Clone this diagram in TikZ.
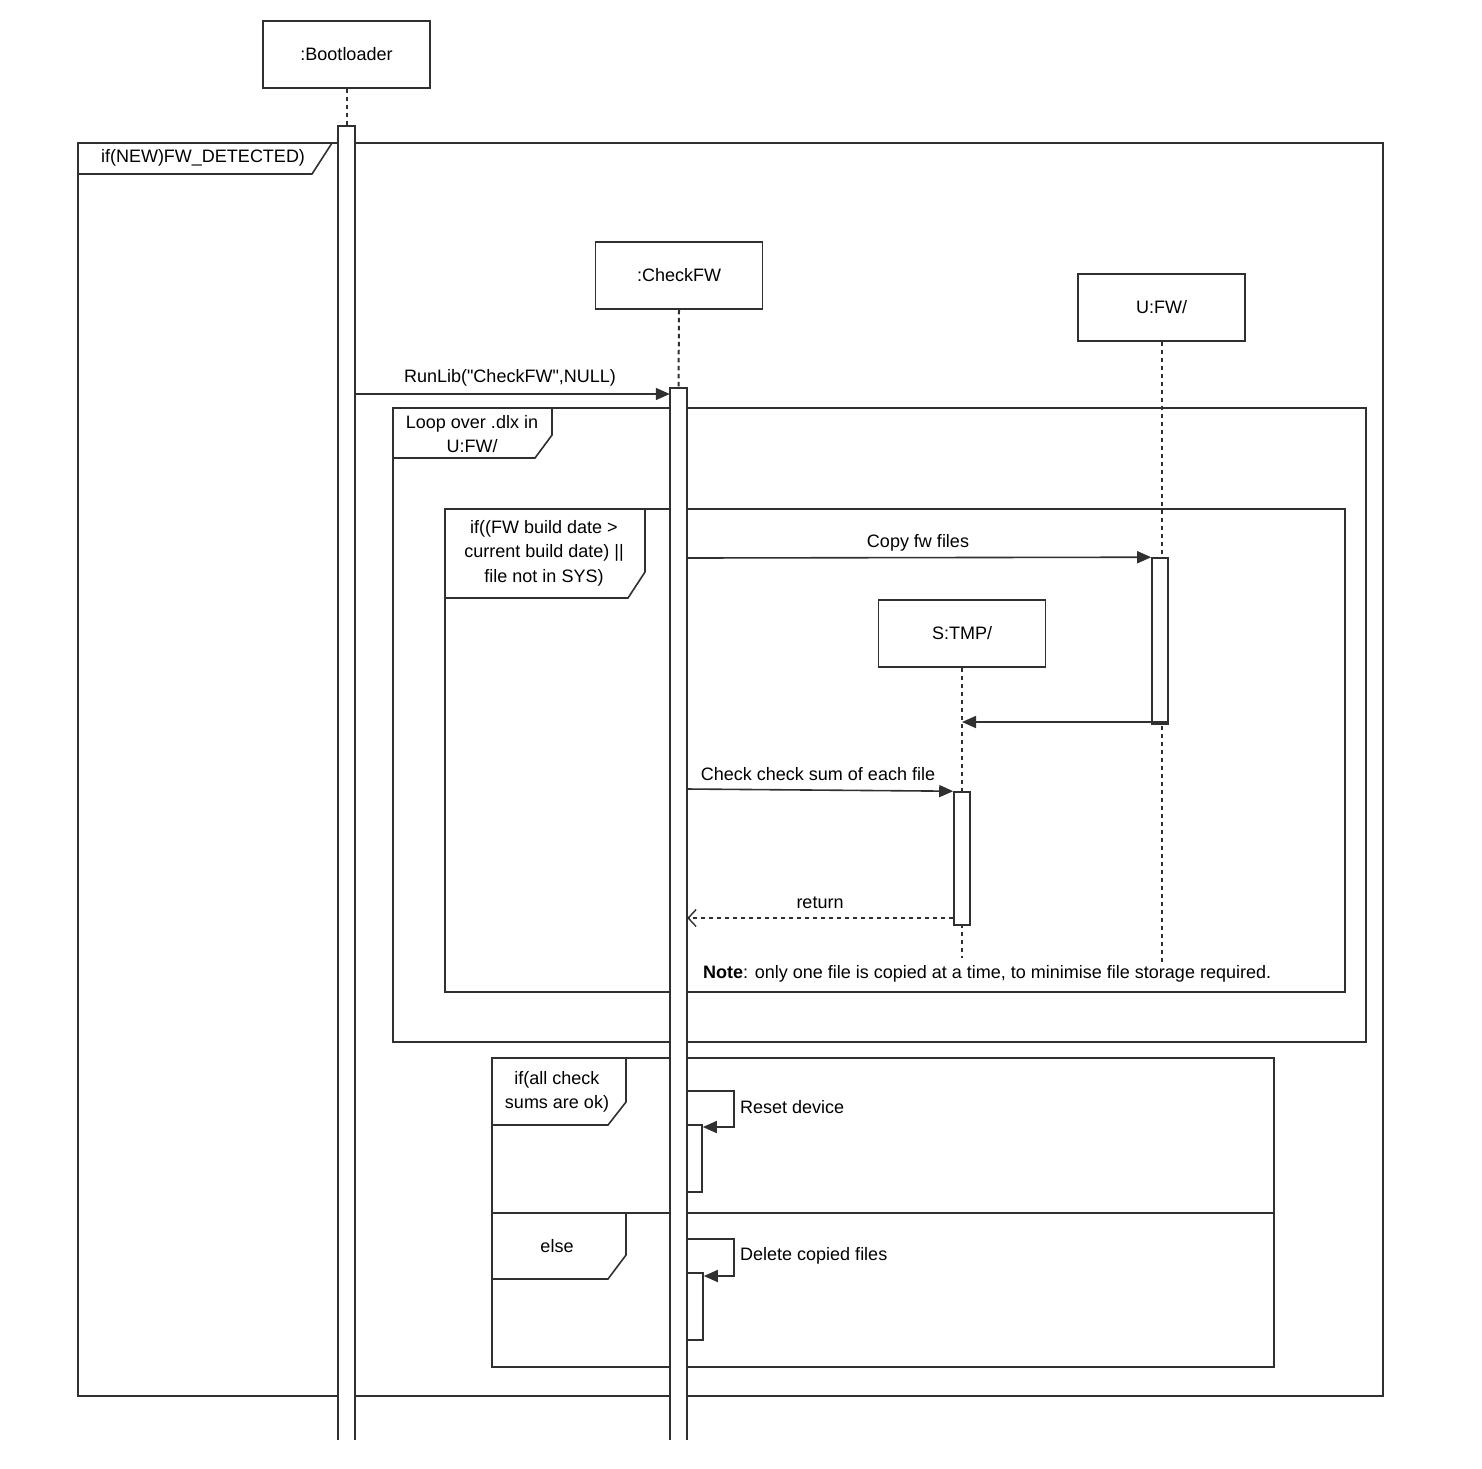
\documentclass[tikz,border=0pt]{standalone}
\usepackage{fontspec}
\setmainfont{Liberation Sans}
\newfontfamily\lsans{Liberation Sans}
\usetikzlibrary{arrows.meta,calc}
\definecolor{ink}{HTML}{303030}
\begin{document}
\begin{tikzpicture}[x=1pt,y=-1pt,
  every node/.style={font=\lsans\fontsize{18}{24.5}\selectfont, text=black},
  ln/.style={draw=ink, line width=1.6pt},
  headbox/.style={ln, fill=white, rectangle, minimum width=167pt, minimum height=67pt, inner sep=0pt},
  life/.style={draw=ink, line width=2pt, dash pattern=on 4.5pt off 3.5pt},
  actbar/.style={ln, fill=white, rectangle, inner sep=0pt},
  mainbar/.style={fill=white, rectangle, inner sep=0pt, minimum width=17pt},
  msg/.style={ln, -{Triangle[length=14pt,width=12pt]}},
  retmsg/.style={ln, dash pattern=on 4.5pt off 3.5pt, -{Straight Barb[length=8pt,width=17pt,line width=1.4pt]}},
  lbl/.style={inner sep=0pt, align=center}
]
\useasboundingbox (0,0) rectangle (1482,1468);

% ---------- frames ----------
\draw[ln] (78,143) rectangle (1383,1396);
\draw[ln] (78,174) -- (312,174) -- (332,143);
\node[lbl] (outerlbl) at (203,158) {if(NEW)FW\_DETECTED)};

\draw[ln] (393,408) rectangle (1366,1042);
\draw[ln] (393,458) -- (535,458) -- (552,435) -- (552,408);
\node[lbl] (looplbl) at (472,434) {Loop over .dlx in\\U:FW/};

\draw[ln] (445,509) rectangle (1345,992);
\draw[ln] (445,598) -- (628,598) -- (645,572) -- (645,509);
\node[lbl] (iflbl) at (544,553) {if((FW build date >\\current build date) ||\\file not in SYS)};

\draw[ln] (492,1058) rectangle (1274,1367);
\draw[ln] (492,1213) -- (1274,1213);
\draw[ln] (492,1125) -- (608,1125) -- (626,1102) -- (626,1058);
\node[lbl] (altlbl) at (557,1092) {if(all check\\sums are ok)};
\draw[ln] (492,1279) -- (608,1279) -- (626,1255) -- (626,1213);
\node[lbl] (elselbl) at (557,1246) {else};

% ---------- heads ----------
\node[headbox] (boot) at (346.5,54.5) {:Bootloader};
\node[headbox] (check) at (679,275.5) {:CheckFW};
\node[headbox] (ufw) at (1161.5,307.5) {U:FW/};
\node[headbox] (tmp) at (962,633.5) {S:TMP/};

% ---------- main activation bars ----------
\node[mainbar, minimum height=1314pt] (bootbar) at (346.5,783) {};
\node[mainbar, minimum height=1052pt] (checkbar) at (678.5,914) {};
\coordinate (ufwend) at (1161.5,965);
\coordinate (tmpend) at (962,958);

% ---------- lifelines ----------
\draw[life] (boot.south) -- (bootbar.north);
\draw[life] (check.south) -- (checkbar.north);
\draw[life] (ufw.south) -- (ufwend);
\draw[life] (tmp.south) -- (tmpend);

\draw[ln] (bootbar.south west) |- (bootbar.north east) -- (bootbar.south east);
\draw[ln] (checkbar.south west) |- (checkbar.north east) -- (checkbar.south east);

% ---------- other activation bars ----------
\node[actbar, minimum width=16pt, minimum height=166pt] (ufwbar) at (1160,641) {};
\node[actbar, minimum width=16pt, minimum height=133pt] (tmpbar) at (962,858.5) {};
\node[actbar, minimum width=15pt, minimum height=67pt] (resetbar) at (694.5,1158.5) {};
\node[actbar, minimum width=16pt, minimum height=67pt] (delbar) at (695,1306.5) {};

% ---------- messages ----------
\draw[msg] (bootbar.east |- 0,394) -- (checkbar.west |- 0,394);
\node[lbl] (runlbl) at (510,378) {RunLib("CheckFW",NULL)};

\draw[msg] (checkbar.east |- 0,558) -- (ufwbar.north west);
\node[lbl] (copylbl) at (918,543) {Copy fw files};

\draw[msg] (ufwbar.east |- 0,722) -- (tmpend |- 0,722);

\draw[msg] (checkbar.east |- 0,789) -- (tmpbar.north west);
\node[lbl] (chklbl) at (818,774) {Check check sum of each file};

\draw[retmsg] (tmpbar.west |- 0,918) -- (checkbar.east |- 0,918);
\node[lbl] (retlbl) at (820,903) {return};

\node[lbl, anchor=west] (note) at (703,974) {\textbf{Note}: only one file is copied at a time, to minimise file storage required.};

% ---------- self calls ----------
\draw[msg] (checkbar.east |- 0,1091) -| (734,1127) -- (resetbar.east |- 0,1127);
\node[lbl, anchor=west] (resetlbl) at (740,1107) {Reset device};

\draw[msg] (checkbar.east |- 0,1239) -| (734,1276) -- (delbar.east |- 0,1276);
\node[lbl, anchor=west] (dellbl) at (740,1256) {Delete copied files};
\end{tikzpicture}
\end{document}
